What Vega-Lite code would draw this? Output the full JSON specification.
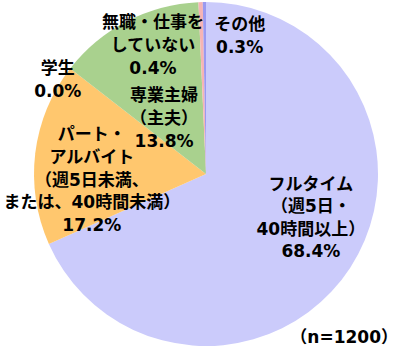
{
  "$schema": "https://vega.github.io/schema/vega-lite/v6.json",
  "width": 388,
  "height": 348,
  "autosize": {"type": "none"},
  "padding": {"left": 12, "right": 0, "top": 0, "bottom": 0},
  "background": "#ffffff",
  "config": {"view": {"stroke": null}},
  "title": {
    "text": "（n=1200）",
    "orient": "bottom",
    "anchor": "end",
    "baseline": "top",
    "offset": -18,
    "dx": -2,
    "font": "DejaVu Sans, Noto Sans CJK JP",
    "fontSize": 17,
    "fontWeight": "bold",
    "color": "#000000"
  },
  "data": {
    "values": [
      {"k": "フルタイム", "v": 68.4, "o": 1, "label": "フルタイム\n（週5日・\n40時間以上）\n68.4%"},
      {"k": "パート・アルバイト", "v": 17.2, "o": 2, "label": "パート・\nアルバイト\n（週5日未満、\nまたは、40時間未満）\n17.2%"},
      {"k": "学生", "v": 0.0, "o": 3, "label": "学生\n0.0%"},
      {"k": "専業主婦（主夫）", "v": 13.8, "o": 4, "label": "専業主婦\n（主夫）\n13.8%"},
      {"k": "無職・仕事をしていない", "v": 0.4, "o": 5, "label": "無職・仕事を\nしていない\n0.4%"},
      {"k": "その他", "v": 0.3, "o": 6, "label": "その他\n0.3%"}
    ]
  },
  "encoding": {
    "theta": {"field": "v", "type": "quantitative", "stack": true},
    "order": {"field": "o", "type": "quantitative"}
  },
  "layer": [
    {
      "mark": {"type": "arc", "outerRadius": 172, "stroke": null},
      "encoding": {
        "color": {
          "field": "k",
          "type": "nominal",
          "legend": null,
          "scale": {
            "domain": ["フルタイム", "パート・アルバイト", "学生", "専業主婦（主夫）", "無職・仕事をしていない", "その他"],
            "range": ["#cbcbfb", "#ffc76e", "#a6a6a6", "#a9d18e", "#f6b4b4", "#9a9af0"]
          }
        }
      }
    },
    {
      "mark": {"type": "text", "radius": 100, "dx": 21, "dy": -43.5, "lineBreak": "\n", "font": "DejaVu Sans, Noto Sans CJK JP", "fontSize": 17, "fontWeight": "bold", "lineHeight": 22.5, "align": "center", "baseline": "middle", "color": "#000000"},
      "encoding": {"text": {"condition": {"test": "datum.k === 'フルタイム'", "field": "label", "type": "nominal"}, "value": ""}}
    },
    {
      "mark": {"type": "text", "radius": 116, "dx": 1, "dy": -25, "lineBreak": "\n", "font": "DejaVu Sans, Noto Sans CJK JP", "fontSize": 17, "fontWeight": "bold", "lineHeight": 22.75, "align": "center", "baseline": "middle", "color": "#000000"},
      "encoding": {"text": {"condition": {"test": "datum.k === 'パート・アルバイト'", "field": "label", "type": "nominal"}, "value": ""}}
    },
    {
      "mark": {"type": "text", "radius": 175, "dx": -10, "dy": 2, "lineBreak": "\n", "font": "DejaVu Sans, Noto Sans CJK JP", "fontSize": 17, "fontWeight": "bold", "lineHeight": 23, "align": "center", "baseline": "middle", "color": "#000000"},
      "encoding": {"text": {"condition": {"test": "datum.k === '学生'", "field": "label", "type": "nominal"}, "value": ""}}
    },
    {
      "mark": {"type": "text", "radius": 63, "dx": -13, "dy": -22, "lineBreak": "\n", "font": "DejaVu Sans, Noto Sans CJK JP", "fontSize": 17, "fontWeight": "bold", "lineHeight": 23, "align": "center", "baseline": "middle", "color": "#000000"},
      "encoding": {"text": {"condition": {"test": "datum.k === '専業主婦（主夫）'", "field": "label", "type": "nominal"}, "value": ""}}
    },
    {
      "mark": {"type": "text", "radius": 130, "dx": -49, "dy": -21, "lineBreak": "\n", "font": "DejaVu Sans, Noto Sans CJK JP", "fontSize": 17, "fontWeight": "bold", "lineHeight": 23, "align": "center", "baseline": "middle", "color": "#000000"},
      "encoding": {"text": {"condition": {"test": "datum.k === '無職・仕事をしていない'", "field": "label", "type": "nominal"}, "value": ""}}
    },
    {
      "mark": {"type": "text", "radius": 142, "dx": 35, "dy": -7, "lineBreak": "\n", "font": "DejaVu Sans, Noto Sans CJK JP", "fontSize": 17, "fontWeight": "bold", "lineHeight": 23, "align": "center", "baseline": "middle", "color": "#000000"},
      "encoding": {"text": {"condition": {"test": "datum.k === 'その他'", "field": "label", "type": "nominal"}, "value": ""}}
    }
  ]
}
